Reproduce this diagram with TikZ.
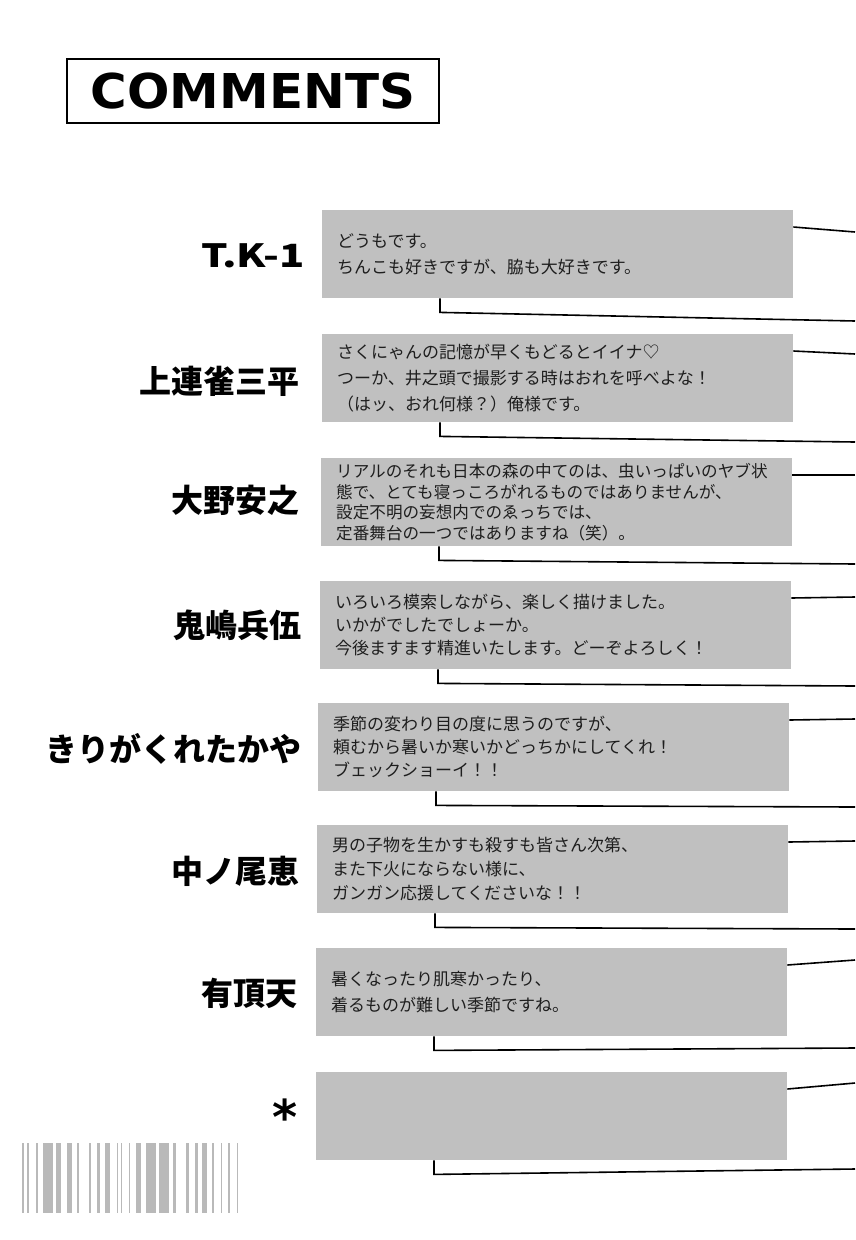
\documentclass[tikz,border=0pt]{standalone}
\usepackage{fontspec}
\usepackage{tikz}
\usetikzlibrary{positioning}
\setmainfont{DejaVu Sans}
\newfontfamily\jpfont{Noto Sans CJK JP}
\newfontfamily\namefont{Noto Sans CJK JP}[UprightFont=* Black]
\newfontfamily\titlefont{DejaVu Sans}[UprightFont=* Bold]
\definecolor{boxgray}{RGB}{192,192,192}
\definecolor{bargray}{RGB}{185,185,185}
\definecolor{inkgray}{RGB}{30,30,30}
\tikzset{
  cbox/.style={fill=boxgray, anchor=north west, minimum width=471pt, minimum height=88pt,
    text width=441pt, inner xsep=15pt, align=left, text=inkgray,
    font=\jpfont\fontsize{17}{25}\selectfont},
  who/.style={font=\namefont\fontsize{32}{32}\selectfont, inner sep=0pt},
  link/.style={line width=1.6pt, black}
}
\begin{document}
\begin{tikzpicture}[x=1pt,y=-1pt]
        \useasboundingbox (0,0) rectangle (855,1240);
        \node[draw, line width=2pt, anchor=north west, minimum width=372pt, minimum height=64pt,
              font=\titlefont\fontsize{48}{48}\selectfont] (title) at (66,58) {\scalebox{1.04}[1]{COMMENTS}};
        % comment boxes
        \node[cbox, font=\jpfont\fontsize{17}{26}\selectfont] (b1) at (322,210) {どうもです。\\ちんこも好きですが、脇も大好きです。};
        \node[cbox, font=\jpfont\fontsize{17}{26}\selectfont] (b2) at (322,334) {さくにゃんの記憶が早くもどるとイイナ♡\\つーか、井之頭で撮影する時はおれを呼べよな！\\（はッ、おれ何様？）俺様です。};
        \node[cbox, font=\jpfont\fontsize{16.6}{20.5}\selectfont] (b3) at (321,458) {リアルのそれも日本の森の中てのは、虫いっぱいのヤブ状\\態で、とても寝っころがれるものではありませんが、\\設定不明の妄想内でのゑっちでは、\\定番舞台の一つではありますね（笑）。};
        \node[cbox, font=\jpfont\fontsize{17}{23}\selectfont] (b4) at (320,581) {いろいろ模索しながら、楽しく描けました。\\いかがでしたでしょーか。\\今後ますます精進いたします。どーぞよろしく！};
        \node[cbox, font=\jpfont\fontsize{17}{23}\selectfont] (b5) at (318,703) {季節の変わり目の度に思うのですが、\\頼むから暑いか寒いかどっちかにしてくれ！\\ブェックショーイ！！};
        \node[cbox, font=\jpfont\fontsize{17}{24}\selectfont] (b6) at (317,825) {男の子物を生かすも殺すも皆さん次第、\\また下火にならない様に、\\ガンガン応援してくださいな！！};
        \node[cbox, font=\jpfont\fontsize{17}{26}\selectfont] (b7) at (316,948) {暑くなったり肌寒かったり、\\着るものが難しい季節ですね。};
        \node[cbox, minimum width=470pt] (b8) at (316,1072) {};
        % names
        \node[who, left=17pt of b1, yshift=-2pt] (n1) {\scalebox{1.3}[1]{T.K-1}};
        \node[who, left=22pt of b2, yshift=-3pt] (n2) {上連雀三平};
        \node[who, left=21pt of b3, yshift=2pt] (n3) {大野安之};
        \node[who, left=18pt of b4] (n4) {鬼嶋兵伍};
        \node[who, left=16pt of b5, yshift=-2pt] (n5) {きりがくれたかや};
        \node[who, left=17pt of b6, yshift=-2pt] (n6) {中ノ尾恵};
        \node[who, left=18pt of b7, yshift=-1pt] (n7) {有頂天};
        \node[font=\titlefont\fontsize{48}{48}\selectfont, inner sep=0pt, left=18pt of b8, yshift=0pt] (n8) {*};
        % lines out to the right edge
        \coordinate (r1) at (855,232); \coordinate (s1) at (855,321);
        \coordinate (r2) at (855,354); \coordinate (s2) at (855,442);
        \coordinate (r3) at (855,475); \coordinate (s3) at (855,564);
        \coordinate (r4) at (855,597); \coordinate (s4) at (855,686);
        \coordinate (r5) at (855,719); \coordinate (s5) at (855,807);
        \coordinate (r6) at (855,841); \coordinate (s6) at (855,929);
        \coordinate (r7) at (855,960); \coordinate (s7) at (855,1048);
        \coordinate (r8) at (855,1083); \coordinate (s8) at (855,1169);
        \foreach \i in {1,...,8} {
          \draw[link] ([yshift=-17pt]b\i.north east) -- (r\i);
          \draw[link] ([xshift=118pt]b\i.south west) -- ++(0,14) -- (s\i);
        }
        % bar code
        \foreach \a/\b in {21.7/24, 27.3/29.3, 36/38, 43.3/52.7, 56/60.7, 67.3/72, 76.7/79.3, 88.7/91,
                           97.3/100, 104.7/110, 116.7/118, 121.3/122.3, 129.3/130.3, 136/140.7, 146/155.7,
                           159/168.7, 173.3/176, 186/188.7, 195/197.7, 202/206.7, 212.3/213.7, 220.7/222,
                           228.3/230, 236.7/238}
          \fill[bargray] (\a,1143) rectangle (\b,1213);
    \end{tikzpicture}
\end{document}
